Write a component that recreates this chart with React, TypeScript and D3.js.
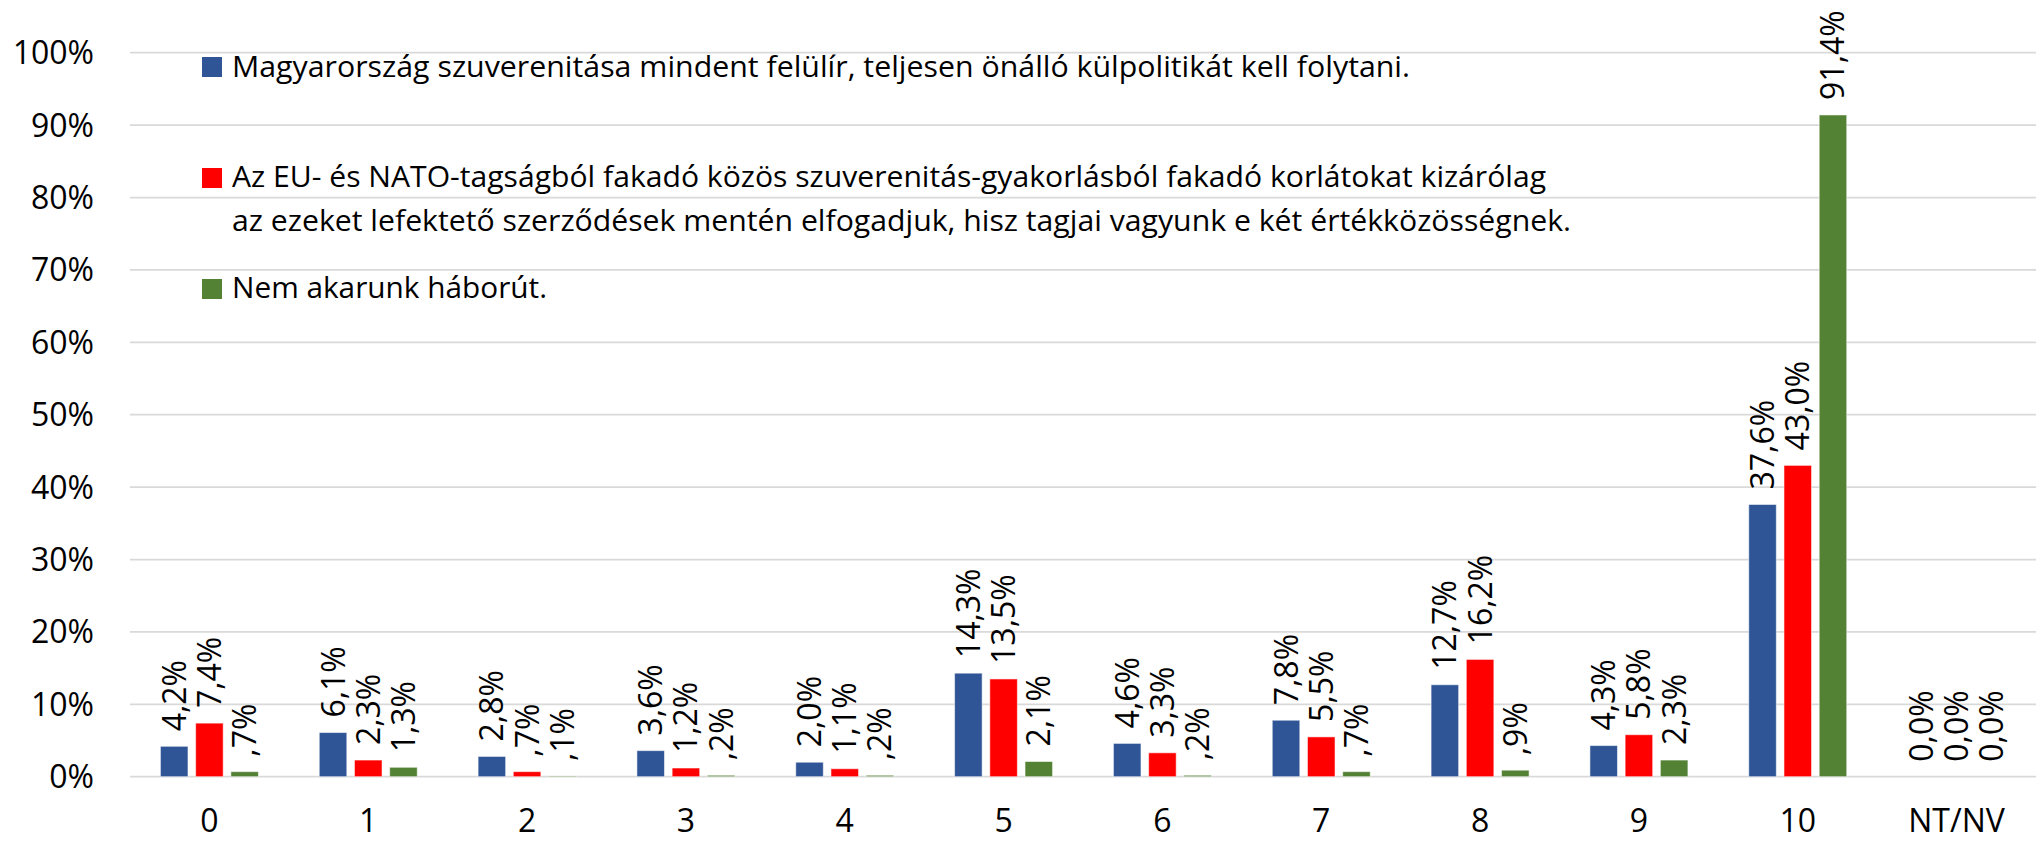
import React, { useEffect, useRef } from "react";
import * as d3 from "d3";

// values in percent
const categories = ["0", "1", "2", "3", "4", "5", "6", "7", "8", "9", "10", "NT/NV"];
const sovereignty = [4.2, 6.1, 2.8, 3.6, 2.0, 14.3, 4.6, 7.8, 12.7, 4.3, 37.6, 0.0];
const euNato = [7.4, 2.3, 0.7, 1.2, 1.1, 13.5, 3.3, 5.5, 16.2, 5.8, 43.0, 0.0];
const noWar = [0.7, 1.3, 0.1, 0.2, 0.2, 2.1, 0.2, 0.7, 0.9, 2.3, 91.4, 0.0];
const yTicks = [0, 10, 20, 30, 40, 50, 60, 70, 80, 90, 100];

const legendLines = [
  ["Magyarország szuverenitása mindent felülír, teljesen önálló külpolitikát kell folytani."],
  [
    "Az EU- és NATO-tagságból fakadó közös szuverenitás-gyakorlásból fakadó korlátokat kizárólag",
    "az ezeket lefektető szerződések mentén elfogadjuk, hisz tagjai vagyunk e két értékközösségnek.",
  ],
  ["Nem akarunk háborút."],
];
const colors = ["#2F5597", "#FF0000", "#548235"];

const FONT = "'Open Sans', 'Liberation Sans', sans-serif";

const fmt = (v: number) => {
  if (v === 0) return "0,0%";
  if (v < 1) return "," + Math.round(v * 10) + "%";
  return v.toFixed(1).replace(".", ",") + "%";
};

export default function App() {
  const ref = useRef<SVGSVGElement>(null);

  useEffect(() => {
    const width = 2036;
    const height = 841;
    const svg = d3.select(ref.current);
    svg.selectAll("*").remove();
    svg.attr("width", width).attr("height", height);

    const left = 130;
    const top = 52.7;
    const bottom = 776.7;

    const y = d3.scaleLinear().domain([0, 100]).range([bottom, top]);
    const x0 = d3
      .scaleBand<string>()
      .domain(categories)
      .range([left, width])
      .paddingInner(0.383)
      .paddingOuter(0.1915);
    const x1 = d3
      .scaleBand<string>()
      .domain(["0", "1", "2"])
      .range([0, x0.bandwidth()])
      .paddingInner(0.2175);

    // gridlines
    svg
      .append("g")
      .selectAll("line")
      .data(yTicks)
      .enter()
      .append("line")
      .attr("x1", left)
      .attr("x2", width)
      .attr("y1", (d) => y(d))
      .attr("y2", (d) => y(d))
      .attr("stroke", "#D9D9D9")
      .attr("stroke-width", 1.75);

    // y labels
    svg
      .append("g")
      .selectAll("text")
      .data(yTicks)
      .enter()
      .append("text")
      .attr("x", 94)
      .attr("y", (d) => y(d) + 11.5)
      .attr("text-anchor", "end")
      .style("font-family", FONT)
      .style("font-size", "32px")
      .attr("fill", "#000")
      .text((d) => d + "%");

    // x labels
    svg
      .append("g")
      .selectAll("text")
      .data(categories)
      .enter()
      .append("text")
      .attr("x", (d) => (x0(d) as number) + x0.bandwidth() / 2)
      .attr("y", 832)
      .attr("text-anchor", "middle")
      .style("font-family", FONT)
      .style("font-size", "32px")
      .attr("fill", "#000")
      .text((d) => d);

    const series = [sovereignty, euNato, noWar];
    series.forEach((vals, si) => {
      const rows = categories.map((c, i) => ({ c, v: vals[i] }));
      const g = svg.append("g");
      g.selectAll("rect")
        .data(rows)
        .enter()
        .append("rect")
        .attr("x", (d) => (x0(d.c) as number) + (x1(String(si)) as number))
        .attr("width", x1.bandwidth())
        .attr("y", (d) => y(d.v))
        .attr("height", (d) => bottom - y(d.v))
        .attr("fill", colors[si])
        .attr("stroke", "#fff")
        .attr("stroke-opacity", 0.55)
        .attr("stroke-width", 1);

      g.selectAll("text")
        .data(rows)
        .enter()
        .append("text")
        .attr("transform", (d) => {
          const cx = (x0(d.c) as number) + (x1(String(si)) as number) + x1.bandwidth() / 2;
          return "translate(" + (cx + 11.5) + "," + (y(d.v) - 15) + ") rotate(-90)";
        })
        .attr("text-anchor", "start")
        .style("font-family", FONT)
        .style("font-size", "32px")
        .attr("fill", "#000")
        .text((d) => fmt(d.v));
    });

    // legend
    const legend = svg.append("g");
    const squareTops = [57, 168, 279];
    const baselines = [[77], [187, 231], [298]];
    const lineEnds = [[1410], [1546, 1571], [547]];
    legendLines.forEach((lines, i) => {
      legend
        .append("rect")
        .attr("x", 202)
        .attr("y", squareTops[i])
        .attr("width", 20)
        .attr("height", 20)
        .attr("fill", colors[i]);
      lines.forEach((t, j) => {
        legend
          .append("text")
          .attr("x", 232)
          .attr("y", baselines[i][j])
          .attr("textLength", lineEnds[i][j] - 232)
          .attr("lengthAdjust", "spacingAndGlyphs")
          .style("font-family", FONT)
          .style("font-size", "29px")
          .attr("fill", "#000")
          .text(t);
      });
    });
  }, []);

  return (
    <svg
      ref={ref}
      style={{ position: "absolute", left: 0, top: 0, background: "#fff" }}
    />
  );
}
